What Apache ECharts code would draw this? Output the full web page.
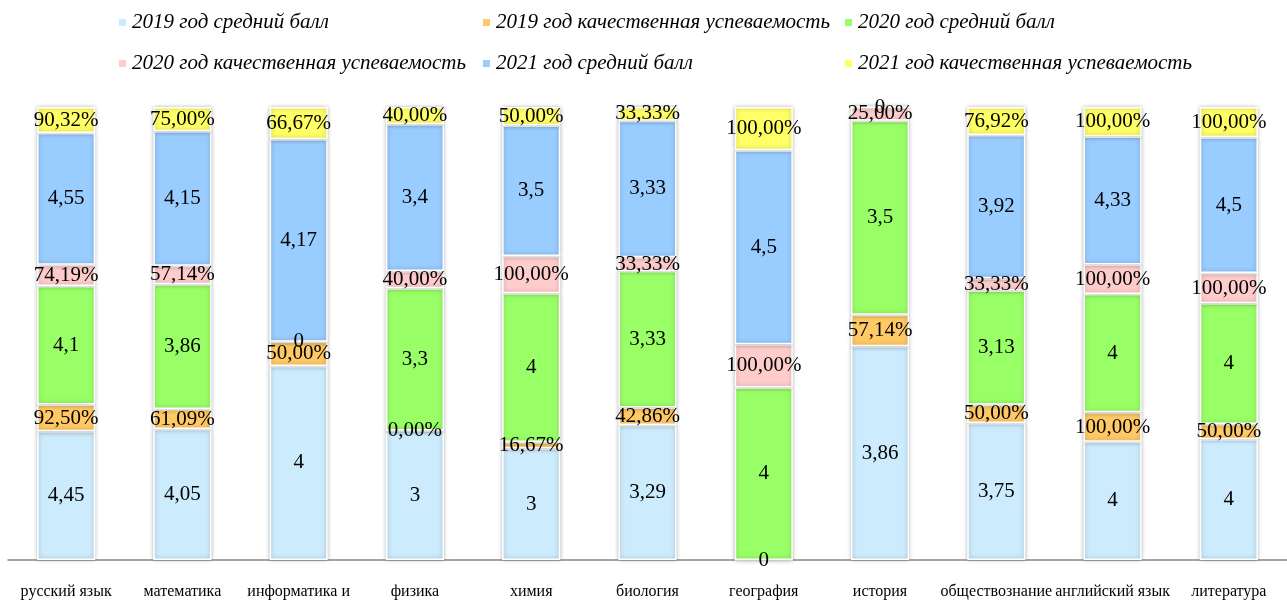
<!DOCTYPE html>
<html>
<head>
<meta charset="utf-8">
<script src="https://cdn.jsdelivr.net/npm/echarts@6/dist/echarts.min.js"></script>
<style>
  html, body { margin: 0; padding: 0; background: #fff; }
  #chart { width: 1287px; height: 603px; }
</style>
</head>
<body>
<div id="chart"></div>
<script>
// Subjects along the x axis
const subjects = ['русский язык', 'математика', 'информатика и', 'физика', 'химия', 'биология',
  'география', 'история', 'обществознание', 'английский язык', 'литература'];

// Average scores (grade points) and quality rates (fractions, shown as %)
const avg2019 = [4.45, 4.05, 4, 3, 3, 3.29, 0, 3.86, 3.75, 4, 4];
const qual2019 = [0.925, 0.6109, 0.5, 0, 0.1667, 0.4286, null, 0.5714, 0.5, 1, 0.5];
const avg2020 = [4.1, 3.86, 0, 3.3, 4, 3.33, 4, 3.5, 3.13, 4, 4];
const qual2020 = [0.7419, 0.5714, null, 0.4, 1, 0.3333, 1, 0.25, 0.3333, 1, 1];
const avg2021 = [4.55, 4.15, 4.17, 3.4, 3.5, 3.33, 4.5, 0, 3.92, 4.33, 4.5];
const qual2021 = [0.9032, 0.75, 0.6667, 0.4, 0.5, 0.3333, 1, null, 0.7692, 1, 1];

const seriesDefs = [
  { name: '2019 год средний балл', data: avg2019, kind: 'avg', color: '#CCEBFD' },
  { name: '2019 год качественная успеваемость', data: qual2019, kind: 'pct', color: '#FFC966' },
  { name: '2020 год средний балл', data: avg2020, kind: 'avg', color: '#99FF66' },
  { name: '2020 год качественная успеваемость', data: qual2020, kind: 'pct', color: '#FFCCCC' },
  { name: '2021 год средний балл', data: avg2021, kind: 'avg', color: '#99CCFF' },
  { name: '2021 год качественная успеваемость', data: qual2021, kind: 'pct', color: '#FFFF66' }
];

// Column totals for the 100% stacked layout
const totals = subjects.map((_, i) =>
  seriesDefs.reduce((s, d) => s + (d.data[i] == null ? 0 : d.data[i]), 0));

function fmtValue(v, kind) {
  if (kind === 'pct') return (v * 100).toFixed(2).replace('.', ',') + '%';
  return String(v).replace('.', ',');
}

const serif = '"Liberation Serif", "Times New Roman", "DejaVu Serif", serif';

const series = seriesDefs.map(d => ({
  name: d.name,
  type: 'bar',
  stack: 'all',
  barWidth: '50%',
  itemStyle: {
    color: d.color,
    borderColor: '#ffffff',
    borderWidth: 1.5,
    shadowColor: 'rgba(0,0,0,0.28)',
    shadowBlur: 4
  },
  label: {
    show: true,
    position: 'inside',
    color: '#000',
    fontFamily: serif,
    fontSize: 21,
    formatter: p => fmtValue(p.data.raw, d.kind)
  },
  data: d.data.map((v, i) => v == null ? '-' : { value: v / totals[i] * 100, raw: v })
}));

const legendText = { fontFamily: serif, fontSize: 21, fontStyle: 'italic', color: '#000' };
const legendBase = {
  orient: 'vertical', top: 12, itemGap: 20, itemWidth: 9, itemHeight: 9,
  icon: 'rect', textStyle: legendText, selectedMode: false, padding: 0
};

const option = {
  animation: false,
  legend: [
    Object.assign({}, legendBase, { left: 117, data: [seriesDefs[0].name, seriesDefs[3].name] }),
    Object.assign({}, legendBase, { left: 481, data: [seriesDefs[1].name, seriesDefs[4].name] }),
    Object.assign({}, legendBase, { left: 843, data: [seriesDefs[2].name, seriesDefs[5].name] })
  ],
  grid: { left: 8, right: -10, top: 107, bottom: 43, containLabel: false },
  xAxis: {
    type: 'category',
    data: subjects,
    axisLine: { show: true, lineStyle: { color: '#888', width: 1.5 } },
    axisTick: { show: false },
    axisLabel: { interval: 0, margin: 24, color: '#000', fontFamily: serif, fontSize: 16 }
  },
  yAxis: { type: 'value', min: 0, max: 100, show: false },
  series: series
};

echarts.init(document.getElementById('chart')).setOption(option);
</script>
</body>
</html>
